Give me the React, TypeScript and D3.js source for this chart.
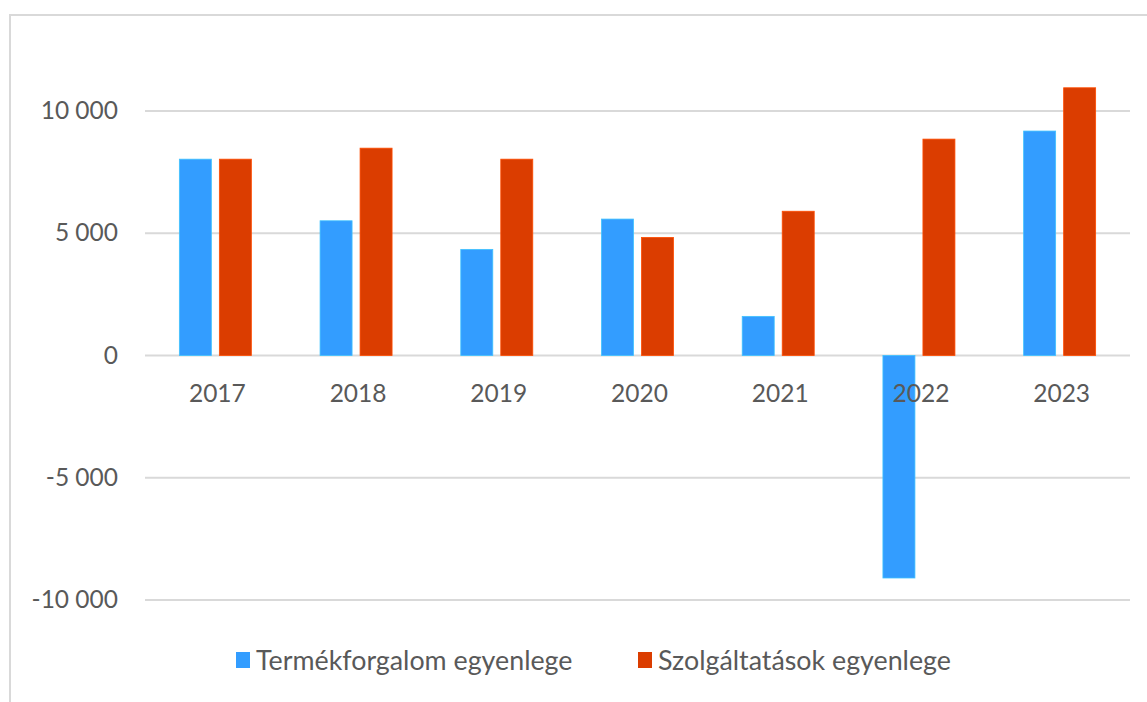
import * as d3 from "d3";
import React from "react";

const years = ["2017", "2018", "2019", "2020", "2021", "2022", "2023"];
const seriesNames = ["Termékforgalom egyenlege", "Szolgáltatások egyenlege"];
const goodsBalance = [8030, 5510, 4340, 5580, 1600, -9100, 9180];
const servicesBalance = [8030, 8480, 8030, 4830, 5900, 8850, 10950];
const yTicks = [-10000, -5000, 0, 5000, 10000];
const colors = ["#339dff", "#db3d00"];

export default function App() {
  const ref = React.useRef<SVGSVGElement>(null);

  React.useEffect(() => {
    if (!ref.current) return;
    const svg = d3.select(ref.current);
    svg.selectAll("*").remove();

    const font = "Lato, 'Open Sans', sans-serif";
    const textColor = "#595959";

    // 外枠
    svg
      .append("rect")
      .attr("x", 10)
      .attr("y", 15)
      .attr("width", 1200)
      .attr("height", 800)
      .attr("fill", "white")
      .attr("stroke", "#d9d9d9")
      .attr("stroke-width", 2);

    const left = 145;
    const right = 1130;

    const y = d3.scaleLinear().domain([-10000, 10000]).range([600, 111]);
    const x0 = d3.scaleBand().domain(years).range([left, right]);
    const fmt = (v: number) =>
      d3.format(",")(v).replace(/,/g, " ").replace("\u2212", "-");

    // グリッド線
    svg
      .append("g")
      .selectAll("line")
      .data(yTicks)
      .enter()
      .append("line")
      .attr("x1", left)
      .attr("x2", right)
      .attr("y1", (d) => y(d))
      .attr("y2", (d) => y(d))
      .attr("stroke", "#d9d9d9")
      .attr("stroke-width", 2);

    // Y軸ラベル
    svg
      .append("g")
      .selectAll("text")
      .data(yTicks)
      .enter()
      .append("text")
      .attr("x", 118)
      .attr("y", (d) => y(d) + 8)
      .attr("text-anchor", "end")
      .attr("font-family", font)
      .attr("font-size", 24.5)
      .attr("fill", textColor)
      .text((d) => fmt(d));

    // バー
    const values = [goodsBalance, servicesBalance];
    years.forEach((year, i) => {
      const cx = (x0(year) || 0) + x0.bandwidth() / 2;
      const x1 = d3
        .scaleBand()
        .domain(seriesNames)
        .range([cx - 36, cx + 36])
        .paddingInner(0.2);
      seriesNames.forEach((s, j) => {
        const v = values[j][i];
        svg
          .append("rect")
          .attr("x", x1(s) || 0)
          .attr("y", y(Math.max(0, v)))
          .attr("width", x1.bandwidth())
          .attr("height", Math.abs(y(v) - y(0)))
          .attr("fill", colors[j])
          .attr("stroke", d3.color(colors[j])!.brighter(0.6).toString())
          .attr("stroke-width", 0.8);
      });
    });

    // X軸ラベル
    svg
      .append("g")
      .selectAll("text")
      .data(years)
      .enter()
      .append("text")
      .attr("x", (d) => (x0(d) || 0) + x0.bandwidth() / 2 + 2)
      .attr("y", 402)
      .attr("text-anchor", "middle")
      .attr("font-family", font)
      .attr("font-size", 24.5)
      .attr("fill", textColor)
      .text((d) => d);

    // 凡例
    const legendX = [236, 638];
    seriesNames.forEach((s, j) => {
      svg
        .append("rect")
        .attr("x", legendX[j])
        .attr("y", 652)
        .attr("width", 14)
        .attr("height", 16)
        .attr("fill", colors[j]);
      svg
        .append("text")
        .attr("x", legendX[j] + 20)
        .attr("y", 670)
        .attr("font-family", font)
        .attr("font-size", 26.8)
        .attr("fill", textColor)
        .text(s);
    });
  }, []);

  return (
    <svg
      ref={ref}
      width={1147}
      height={702}
      style={{ position: "absolute", left: 0, top: 0 }}
    />
  );
}
